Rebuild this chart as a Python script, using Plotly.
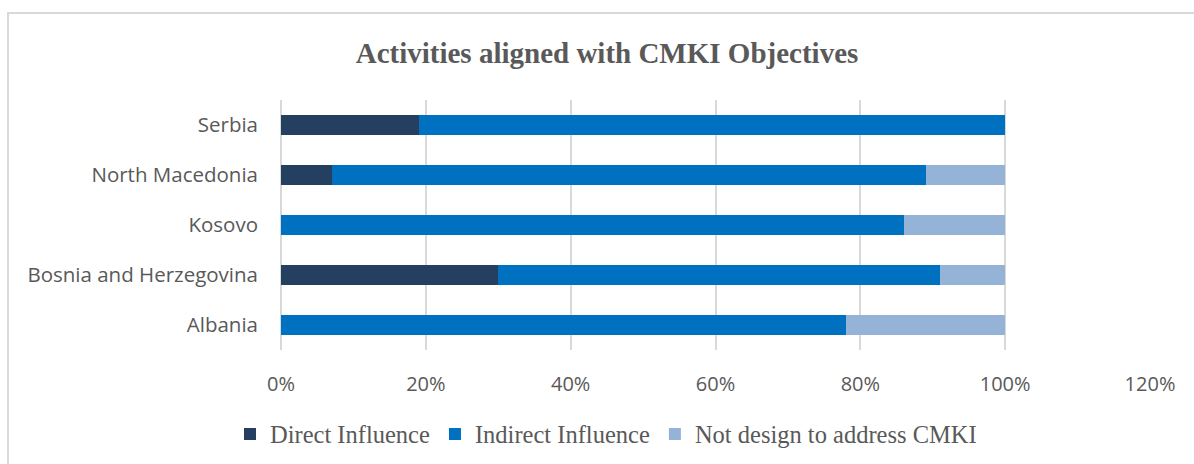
import plotly.graph_objects as go

countries = ["Albania", "Bosnia and Herzegovina", "Kosovo", "North Macedonia", "Serbia"]
direct = [0.0, 0.30, 0.0, 0.07, 0.19]
indirect = [0.78, 0.61, 0.86, 0.82, 0.81]
not_design = [0.22, 0.09, 0.14, 0.11, 0.0]
series_names = ["Direct Influence", "Indirect Influence", "Not design to address CMKI"]
colors = ["#253F60", "#0070C0", "#95B3D7"]
x_ticks = [0, 0.2, 0.4, 0.6, 0.8, 1.0, 1.2]
x_tick_labels = ["0%", "20%", "40%", "60%", "80%", "100%", "120%"]

W, H = 1194, 464
L, R, T, B = 281, 44, 100, 114
pw, ph = W - L - R, H - T - B

fig = go.Figure()
for name, vals, col in zip(series_names, [direct, indirect, not_design], colors):
    fig.add_trace(go.Bar(
        y=countries, x=vals, name=name, orientation="h",
        marker=dict(color=col, line=dict(width=0)),
    ))

def px_x(px):
    return (px - L) / pw

def px_y(py):
    return 1 - (py - T) / ph

fig.update_layout(
    width=W, height=H,
    margin=dict(l=L, r=R, t=T, b=B),
    barmode="stack", bargap=0.6,
    plot_bgcolor="white", paper_bgcolor="white",
    title=dict(text="<b>Activities aligned with CMKI Objectives</b>",
               font=dict(family="Liberation Serif", size=29, color="#595959"),
               x=607 / W, xanchor="center", xref="container",
               y=1 - 53 / H, yanchor="middle", yref="container"),
    xaxis=dict(range=[0, 1.2], tickvals=x_ticks, ticktext=x_tick_labels,
               showgrid=True, gridcolor="#D9D9D9", gridwidth=1.5,
               zeroline=True, zerolinecolor="#D9D9D9", zerolinewidth=1.5,
               showline=False, ticks="", ticklabelstandoff=20,
               tickfont=dict(family="Open Sans", size=20, color="#595959")),
    yaxis=dict(showgrid=False, zeroline=False, showline=False, ticks="",
               ticklabelstandoff=22,
               tickfont=dict(family="Open Sans", size=20.5, color="#595959")),
    legend=dict(orientation="h", x=606 / W, xanchor="center", xref="container",
                y=1 - 434 / H, yanchor="middle", yref="container",
                font=dict(family="Liberation Serif", size=24.5, color="#595959"),
                itemwidth=30, traceorder="normal"),
    showlegend=True,
)

fig.add_shape(type="rect", xref="paper", yref="paper",
              x0=px_x(8), x1=px_x(1200), y0=px_y(470), y1=px_y(13),
              line=dict(color="#D9D9D9", width=2), fillcolor="rgba(0,0,0,0)",
              layer="below")

fig.write_html("out.html")
